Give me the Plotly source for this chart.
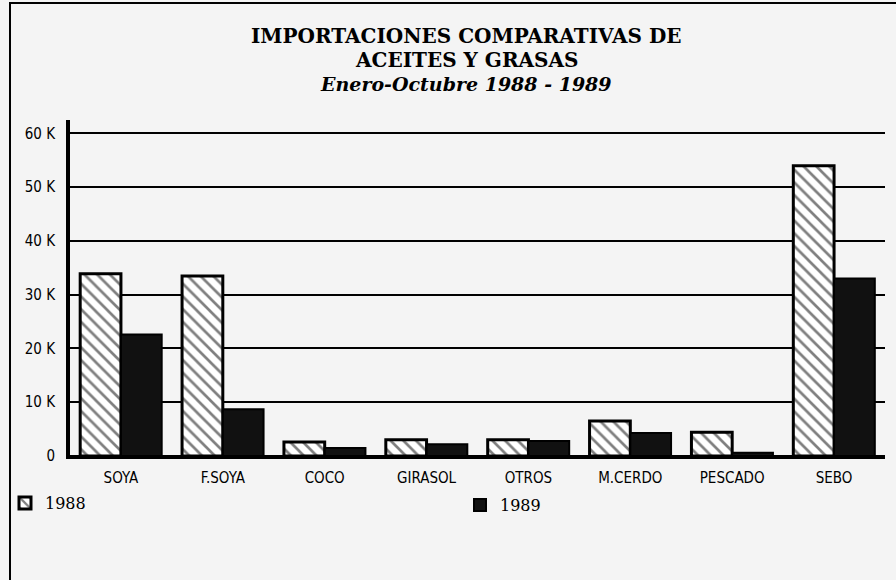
import plotly.graph_objects as go

categories = ["SOYA", "F.SOYA", "COCO", "GIRASOL", "OTROS", "M.CERDO", "PESCADO", "SEBO"]
values_1988 = [33900, 33500, 2600, 3000, 3000, 6500, 4400, 54000]
values_1989 = [22600, 8700, 1500, 2200, 2800, 4300, 600, 33000]
tick_vals = [0, 10000, 20000, 30000, 40000, 50000, 60000]
tick_text = ["0", "10 K", "20 K", "30 K", "40 K", "50 K", "60 K"]
title_lines = ["<b>IMPORTACIONES COMPARATIVAS DE</b>", "<b>ACEITES Y GRASAS</b>",
               "<b><i>Enero-Octubre 1988 - 1989</i></b>"]

label_font = dict(family="DejaVu Sans Condensed, Liberation Sans Narrow, DejaVu Sans", size=15, color="black")
serif = "DejaVu Serif, Liberation Serif, serif"

fig = go.Figure()
fig.add_trace(go.Bar(
    name="1988", x=categories, y=values_1988, legend="legend",
    marker=dict(color="white",
                pattern=dict(shape="\\", fgcolor="black", bgcolor="white", size=9, solidity=0.3),
                line=dict(color="black", width=3)),
))
fig.add_trace(go.Bar(
    name="1989", x=categories, y=values_1989, legend="legend2",
    marker=dict(color="#111111", line=dict(color="black", width=2)),
))

W, H = 896, 580
L, R, T, B = 70, 11, 120, 124
pw, ph = W - L - R, H - T - B

def px_x(p):
    return (p - L) / pw

def px_y(p):
    return (H - B - p) / ph

title_y = [36, 60, 84]
title_size = [20, 20, 19]
annotations = [dict(text=t, xref="paper", yref="paper", x=px_x(466), y=px_y(yy),
                    xanchor="center", yanchor="middle", showarrow=False,
                    font=dict(family=serif, size=s, color="black"))
               for t, yy, s in zip(title_lines, title_y, title_size)]

legend_common = dict(orientation="h", yanchor="middle", xanchor="left",
                     font=dict(family=serif, size=16, color="black"),
                     bgcolor="rgba(0,0,0,0)")

fig.update_layout(
    width=W, height=H,
    margin=dict(l=L, r=R, t=T, b=B, autoexpand=False),
    paper_bgcolor="#f4f4f4", plot_bgcolor="#f4f4f4",
    barmode="group", bargap=0.2, bargroupgap=0,
    showlegend=True,
    legend=dict(x=px_x(5), y=px_y(503), **legend_common),
    legend2=dict(x=px_x(460), y=px_y(505), **legend_common),
    font=label_font,
    annotations=annotations,
    shapes=[dict(type="rect", xref="paper", yref="paper",
                 x0=px_x(10), x1=px_x(897), y0=px_y(590), y1=px_y(3),
                 line=dict(color="black", width=2), fillcolor="rgba(0,0,0,0)", layer="below")],
)
fig.update_xaxes(
    showline=True, linecolor="black", linewidth=3, ticks="", showgrid=False,
    tickfont=label_font, ticklabelstandoff=6,
)
fig.update_yaxes(
    range=[0, 62500], tickvals=tick_vals, ticktext=tick_text,
    showline=True, linecolor="black", linewidth=4,
    showgrid=True, gridcolor="black", gridwidth=2,
    zeroline=True, zerolinecolor="black", zerolinewidth=3,
    ticks="", tickfont=label_font, ticklabelstandoff=8,
)

fig.write_html("out.html", config={"displayModeBar": False},
               post_script="document.body.style.margin='0';")
